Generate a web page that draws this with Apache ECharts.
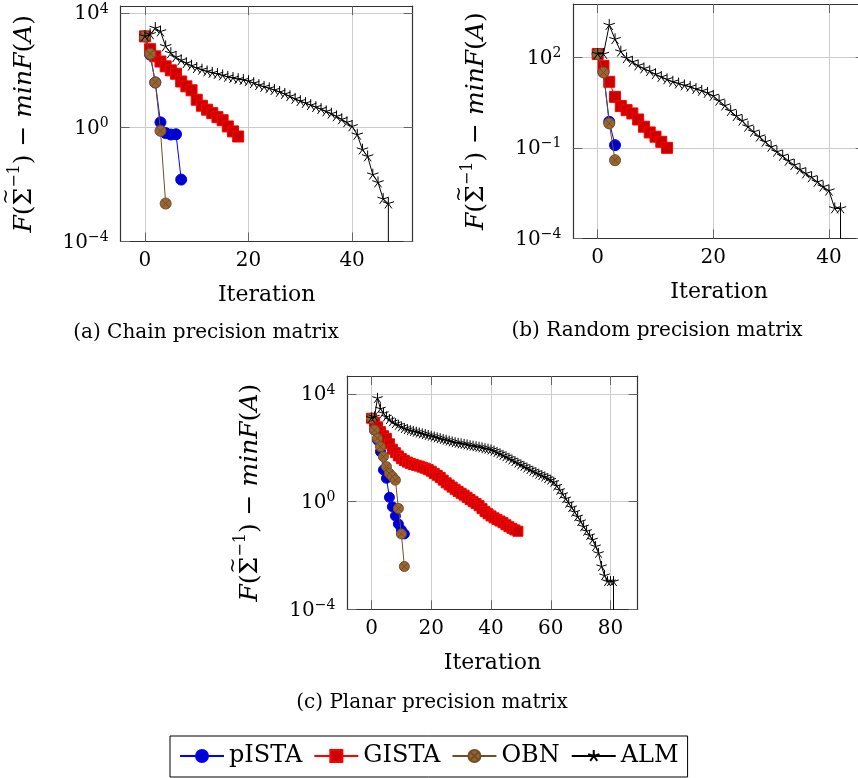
<!DOCTYPE html>
<html>
<head>
<meta charset="utf-8">
<script src="https://cdn.jsdelivr.net/npm/echarts@6.0.0/dist/echarts.min.js"></script>
<style>
html,body{margin:0;padding:0;background:#fff;}
#chart{width:858px;height:778px;}
</style>
</head>
<body>
<div id="chart"></div>
<script>
// ---------------- DATA ----------------
const seriesNames = ['pISTA', 'GISTA', 'OBN', 'ALM'];
const panelCaptions = ['(a) Chain precision matrix', '(b) Random precision matrix', '(c) Planar precision matrix'];
const xAxisTitle = 'Iteration';

const xTicksA = [0, 20, 40];
const xTicksB = [0, 20, 40];
const xTicksC = [0, 20, 40, 60, 80];
const yTicksA = [1e-4, 1, 1e4];
const yTicksB = [1e-4, 1e-1, 1e2];
const yTicksC = [1e-4, 1, 1e4];

const xRangeA = [-4.7, 51.7];
const xRangeB = [-4.2, 46.2];
const xRangeC = [-8.1, 89.1];
const yRangeA = [1e-4, 18000];
const yRangeB = [1e-4, 5890];
const yRangeC = [1e-4, 46700];

// (a) Chain precision matrix, value per iteration (index = iteration)
const pistaA = [1550, 355, 37.6, 1.50, 0.631, 0.562, 0.575, 0.0148];
const gistaA = [1550, 550, 309, 204, 138, 100, 75.9, 40.7, 27.5, 20.0, 9.33, 5.75, 4.17, 3.16, 2.29, 1.78, 1.08, 0.724, 0.479];
const obnA = [1550, 380, 37.6, 0.759, 0.00214];
const almA = [1550, 1820, 3020, 2290, 692, 398, 288, 224, 178, 145,
  120, 105, 91.2, 81.3, 74.1, 66.1, 58.9, 53.7, 49.0, 45.7,
  41.7, 35.5, 30.2, 26.3, 23.4, 20.4, 17.4, 14.8, 12.3, 10.0,
  8.32, 7.08, 6.03, 5.13, 4.37, 3.63, 3.02, 2.43, 1.91, 1.50,
  1.08, 0.550, 0.166, 0.0955, 0.0219, 0.0117, 0.00309, 0.00214];

// (b) Random precision matrix
const pistaB = [129, 33.1, 0.733, 0.123];
const gistaB = [129, 52.5, 15.5, 4.90, 2.43, 1.78, 1.38, 0.871, 0.501, 0.324, 0.234, 0.158, 0.100];
const obnB = [129, 31.6, 0.646, 0.0389];
const almB = [129, 129, 1175, 398, 155, 93.3, 70.8, 53.7, 42.7, 34.7,
  27.5, 22.4, 18.6, 15.5, 13.5, 11.7, 10.5, 8.91, 7.76, 6.61,
  5.25, 3.63, 2.51, 1.66, 1.12, 0.794, 0.501, 0.339, 0.234, 0.158,
  0.107, 0.0741, 0.0537, 0.0372, 0.0269, 0.0191, 0.0141, 0.0105, 0.00741, 0.00513,
  0.00380, 0.000977, 0.000977];

// (c) Planar precision matrix
const pistaC = [1260, 457, 195, 72.4, 15.1, 7.41, 1.45, 0.646, 0.295, 0.148, 0.0891, 0.0631];
const gistaC = [1260, 891, 603, 398, 282, 224, 141, 89.1, 66.1, 50.1,
  39.8, 33.9, 29.5, 26.3, 24.0, 22.4, 20.9, 19.1, 17.4, 15.5,
  13.5, 11.2, 9.55, 7.94, 6.31, 5.01, 4.17, 3.47, 2.88, 2.40,
  2.04, 1.74, 1.45, 1.20, 1.00, 0.851, 0.708, 0.550, 0.427, 0.355,
  0.295, 0.251, 0.219, 0.191, 0.166, 0.138, 0.117, 0.102, 0.0891, 0.0794];
const obnC = [1260, 457, 224, 110, 46.8, 20.0, 11.2, 8.51, 6.31, 0.562, 0.0631, 0.00389];
const almC = [1260, 1410, 6920, 2820, 1905, 1413, 1122, 933, 794, 692,
  603, 525, 479, 437, 407, 380, 355, 331, 309, 288,
  269, 251, 234, 219, 204, 191, 178, 166, 155, 148,
  141, 135, 129, 120, 115, 110, 105, 100, 93.3, 89.1,
  83.2, 75.9, 67.6, 60.3, 52.5, 46.8, 40.7, 35.5, 30.9, 26.9,
  23.4, 20.4, 17.8, 15.5, 13.5, 12.0, 10.5, 9.33, 8.32, 7.24,
  6.31, 5.25, 3.80, 2.63, 1.86, 1.29, 0.871, 0.603, 0.407, 0.275,
  0.182, 0.117, 0.0794, 0.0550, 0.0380, 0.0214, 0.0120, 0.00389, 0.00178, 0.00107,
  0.00107, 0.00107];

// ALM reaches (numerically) zero at its final iteration: the curve falls off the bottom of the log axis
const almFinalValue = 1e-12;

// ---------------- STYLE ----------------
const FONT_NAME = 'DejaVu Serif';
const FONT = '"DejaVu Serif", serif';
const OTIMES = 'path://M0,10A10,10 0 1,1 20,10A10,10 0 1,1 0,10ZM2.93,2.93L17.07,17.07M17.07,2.93L2.93,17.07';
const STAR = 'path://M10,10L10,0M10,10L0.49,6.91M10,10L4.12,18.09M10,10L15.88,18.09M10,10L19.51,6.91M10,20L10,20M0,10L0,10M20,10L20,10';

const styles = {
  pISTA: {line: '#0000ff', fill: '#0000cc', stroke: '#0000ff', symbol: 'circle'},
  GISTA: {line: '#ff0000', fill: '#cc0000', stroke: '#ff0000', symbol: 'rect'},
  OBN:   {line: '#734d26', fill: '#996633', stroke: '#734d26', symbol: OTIMES},
  ALM:   {line: '#000000', fill: '#000000', stroke: '#000000', symbol: STAR}
};

function supLabel(v) {
  const e = Math.round(Math.log10(v));
  const s = e < 0 ? '\u2212' + (-e) : String(e);
  return '{b|10}{s|' + s + '}';
}
const tickRich = {
  b: {fontFamily: FONT, fontSize: 20, lineHeight: 22, verticalAlign: 'bottom', color: '#000'},
  s: {fontFamily: FONT, fontSize: 14, lineHeight: 14, padding: [0, 0, 11, 0], verticalAlign: 'top', color: '#000'}
};

// y-axis title F(Σ̃^{-1}) − minF(A): the tilde accent is set on its own thin line above Σ
const NAME_SIZE = 25, SUP_SIZE = 16, TILDE_SIZE = 19;
const mctx = document.createElement('canvas').getContext('2d');
function tw(txt, size, italic) {
  mctx.font = (italic ? 'italic ' : '') + size + 'px "' + FONT_NAME + '"';
  return mctx.measureText(txt).width;
}
const wHead = tw('F', NAME_SIZE, true) + tw('(', NAME_SIZE, false);
const wSigma = tw('\u03A3', NAME_SIZE, false);
const wTail = tw('\u22121', SUP_SIZE, false) + tw(') \u2212 ', NAME_SIZE, false) + tw('minF', NAME_SIZE, true)
  + tw('(', NAME_SIZE, false) + tw('A', NAME_SIZE, true) + tw(')', NAME_SIZE, false);
const yName = '{h| }{t|~}{e| }\n' +
  '{i|F}{r|(}{r|\u03A3}{s|\u22121}{r|) \u2212 }{i|minF}{r|(}{i|A}{r|)}';
const nameRich = {
  h: {width: wHead, lineHeight: 1, fontSize: 4, align: 'center'},
  t: {width: wSigma, lineHeight: 1, fontFamily: FONT, fontSize: TILDE_SIZE, align: 'center', color: '#000'},
  e: {width: wTail, lineHeight: 1, fontSize: 4, align: 'center'},
  i: {fontFamily: FONT, fontSize: NAME_SIZE, fontStyle: 'italic', lineHeight: 30, verticalAlign: 'bottom', color: '#000'},
  r: {fontFamily: FONT, fontSize: NAME_SIZE, lineHeight: 30, verticalAlign: 'bottom', color: '#000'},
  s: {fontFamily: FONT, fontSize: SUP_SIZE, lineHeight: 16, padding: [0, 0, 14, 0], verticalAlign: 'top', color: '#000'}
};

const grids = [
  {left: 120.6, top: 6, width: 292.1, height: 235.5, outerBoundsMode: 'none', containLabel: false},
  {left: 573.4, top: 4, width: 291.4, height: 234.3, outerBoundsMode: 'none', containLabel: false},
  {left: 347.3, top: 376, width: 290.4, height: 233.3, outerBoundsMode: 'none', containLabel: false}
];
const panels = [
  {xr: xRangeA, yr: yRangeA, xt: xTicksA, yt: yTicksA, data: [pistaA, gistaA, obnA, almA], size: 11},
  {xr: xRangeB, yr: yRangeB, xt: xTicksB, yt: yTicksB, data: [pistaB, gistaB, obnB, almB], size: 11},
  {xr: xRangeC, yr: yRangeC, xt: xTicksC, yt: yTicksC, data: [pistaC, gistaC, obnC, almC], size: 10}
];

const AXIS_LINE = {show: true, onZero: false, lineStyle: {color: '#333', width: 1.2}};
const TICK_STYLE = {color: '#666', width: 1};
const xAxes = [], yAxes = [], series = [];

panels.forEach((p, gi) => {
  xAxes.push({
    type: 'value', gridIndex: gi, position: 'bottom', min: p.xr[0], max: p.xr[1],
    axisLine: AXIS_LINE,
    axisTick: {show: true, inside: true, length: 9, customValues: p.xt, lineStyle: TICK_STYLE},
    axisLabel: {show: true, customValues: p.xt, margin: 9, fontFamily: FONT, fontSize: 20, color: '#000'},
    splitLine: {show: true, lineStyle: {color: '#cccccc', width: 1}},
    name: xAxisTitle, nameLocation: 'middle', nameGap: 43,
    nameTextStyle: {fontFamily: FONT, fontSize: 22, color: '#000'}
  });
  xAxes.push({
    type: 'value', gridIndex: gi, position: 'top', min: p.xr[0], max: p.xr[1],
    axisLine: AXIS_LINE,
    axisTick: {show: true, inside: true, length: 9, customValues: p.xt, lineStyle: TICK_STYLE},
    axisLabel: {show: false}, splitLine: {show: false}
  });
  yAxes.push({
    type: 'log', logBase: 10, gridIndex: gi, position: 'left', min: p.yr[0], max: p.yr[1],
    axisLine: AXIS_LINE,
    axisTick: {show: true, inside: true, length: 9, customValues: p.yt, lineStyle: TICK_STYLE},
    axisLabel: {show: true, customValues: p.yt, margin: 12, formatter: supLabel, rich: tickRich},
    splitLine: {show: true, lineStyle: {color: '#cccccc', width: 1}},
    minorTick: {show: false}, minorSplitLine: {show: false},
    name: yName, nameLocation: 'middle', nameRotate: 90, nameGap: 84,
    nameTextStyle: {rich: nameRich}
  });
  yAxes.push({
    type: 'log', logBase: 10, gridIndex: gi, position: 'right', min: p.yr[0], max: p.yr[1],
    axisLine: AXIS_LINE,
    axisTick: {show: true, inside: true, length: 9, customValues: p.yt, lineStyle: TICK_STYLE},
    axisLabel: {show: false}, splitLine: {show: false}
  });

  seriesNames.forEach((name, si) => {
    const st = styles[name];
    const vals = p.data[si];
    const pts = vals.map((v, i) => [i, v]);
    if (name === 'ALM') pts.push([vals.length - 1, almFinalValue]);
    series.push({
      type: 'line', name: name,
      xAxisIndex: gi * 2, yAxisIndex: gi * 2,
      data: pts,
      clip: true, silent: true, animation: false,
      symbol: st.symbol,
      symbolSize: name === 'ALM' ? p.size + 1 : p.size,
      lineStyle: {color: st.line, width: 1},
      itemStyle: {color: st.fill, borderColor: st.stroke, borderWidth: 1, opacity: 1},
      emphasis: {disabled: true},
      z: 2 + si
    });
  });
});

const chart = echarts.init(document.getElementById('chart'), null, {renderer: 'canvas'});
chart.setOption({
  animation: false,
  backgroundColor: '#ffffff',
  grid: grids,
  xAxis: xAxes,
  yAxis: yAxes,
  series: series,
  legend: {
    data: seriesNames, left: 170, top: 736, orient: 'horizontal',
    itemWidth: 44, itemHeight: 15, itemGap: 11,
    padding: [8, 9, 9, 9], borderColor: '#000', borderWidth: 1,
    selectedMode: false,
    textStyle: {fontFamily: FONT, fontSize: 24, color: '#000'}
  },
  graphic: [
    {type: 'text', x: 206, y: 333, silent: true, style: {text: panelCaptions[0], font: '20px "DejaVu Serif"', fill: '#000', align: 'center', verticalAlign: 'middle'}},
    {type: 'text', x: 657, y: 331, silent: true, style: {text: panelCaptions[1], font: '20px "DejaVu Serif"', fill: '#000', align: 'center', verticalAlign: 'middle'}},
    {type: 'text', x: 432, y: 703, silent: true, style: {text: panelCaptions[2], font: '20px "DejaVu Serif"', fill: '#000', align: 'center', verticalAlign: 'middle'}}
  ]
});
</script>
</body>
</html>
